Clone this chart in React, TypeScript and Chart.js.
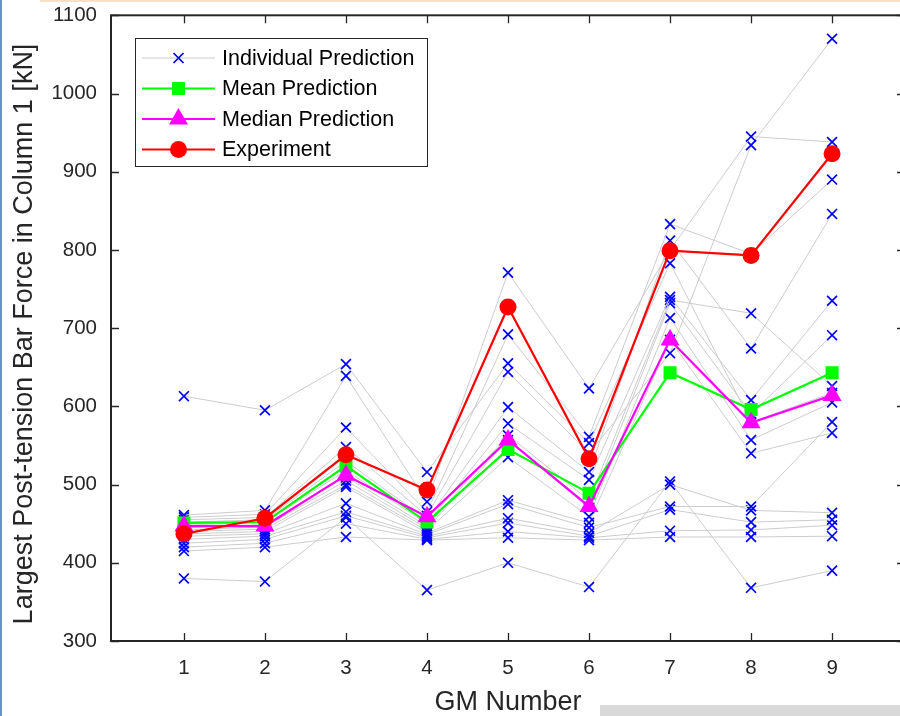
import React, { useEffect, useRef } from 'react';
import { Chart, registerables } from 'chart.js';

Chart.register(...registerables);

const gmNumbers = [1, 2, 3, 4, 5, 6, 7, 8, 9];

const individualPredictions: number[][] = [
  [613, 595, 654, 516, 655, 553, 783, 580, 617],
  [461, 467, 639, 478, 771, 623, 800, 945, 938],
  [458, 462, 573, 465, 692, 561, 833, 795, 890],
  [455, 458, 548, 460, 644, 540, 668, 934, 1070],
  [452, 455, 530, 455, 599, 516, 812, 674, 846],
  [448, 452, 518, 450, 578, 506, 740, 608, 735],
  [445, 449, 510, 447, 563, 480, 736, 719, 626],
  [442, 446, 505, 444, 557, 470, 732, 590, 691],
  [440, 443, 500, 441, 535, 459, 713, 557, 605],
  [437, 440, 497, 438, 480, 451, 685, 540, 566],
  [434, 437, 476, 436, 475, 445, 472, 472, 580],
  [430, 434, 465, 434, 457, 438, 500, 467, 464],
  [425, 430, 460, 432, 451, 434, 468, 452, 455],
  [420, 425, 450, 430, 440, 432, 441, 442, 448],
  [415, 420, 433, 429, 432, 429, 433, 433, 434],
  [380, 376, 458, 365, 400, 369, 504, 368, 390],
];

const meanPrediction = [451, 452, 524, 452, 545, 489, 643, 596, 643];
const medianPrediction = [447, 447, 512, 459, 557, 472, 685, 579, 614];
const experiment = [437, 457, 538, 493, 727, 533, 799, 793, 923];

const yTicks = [300, 400, 500, 600, 700, 800, 900, 1000, 1100];
const legendLabels = ['Individual Prediction', 'Mean Prediction', 'Median Prediction', 'Experiment'];
const xTitle = 'GM Number';
const yTitle = 'Largest Post-tension Bar Force in Column 1 [kN]';

const FONT = '"Liberation Sans", Arial, Helvetica, sans-serif';
const AX = '#262626';
const SHIFT = 11; // canvas is shifted up by this amount inside the clipping frame

function drawMarker(ctx: CanvasRenderingContext2D, kind: string, x: number, y: number, color: string) {
  ctx.save();
  ctx.fillStyle = color;
  ctx.strokeStyle = color;
  if (kind === 'x') {
    ctx.lineWidth = 1.7;
    const h = 5;
    ctx.beginPath();
    ctx.moveTo(x - h, y - h); ctx.lineTo(x + h, y + h);
    ctx.moveTo(x - h, y + h); ctx.lineTo(x + h, y - h);
    ctx.stroke();
  } else if (kind === 'square') {
    const h = 6.5;
    ctx.fillRect(x - h, y - h, 2 * h, 2 * h);
  } else if (kind === 'triangle') {
    const r = 11;
    ctx.beginPath();
    ctx.moveTo(x, y - r);
    ctx.lineTo(x + r * 0.866, y + r * 0.5);
    ctx.lineTo(x - r * 0.866, y + r * 0.5);
    ctx.closePath();
    ctx.fill();
  } else {
    ctx.beginPath();
    ctx.arc(x, y, 8.5, 0, Math.PI * 2);
    ctx.fill();
  }
  ctx.restore();
}

const framePlugin = {
  id: 'matlabFrame',
  afterDraw(chart: any) {
    const { ctx, chartArea: a, scales } = chart;
    ctx.save();
    ctx.strokeStyle = AX;
    ctx.lineWidth = 1.3;
    const L = 8;
    ctx.beginPath();
    scales.x.ticks.forEach((t: any) => {
      const px = Math.round(scales.x.getPixelForValue(t.value)) + 0.5;
      ctx.moveTo(px, a.bottom); ctx.lineTo(px, a.bottom - L);
      ctx.moveTo(px, a.top); ctx.lineTo(px, a.top + L);
    });
    scales.y.ticks.forEach((t: any) => {
      const py = Math.round(scales.y.getPixelForValue(t.value)) + 0.5;
      ctx.moveTo(a.left, py); ctx.lineTo(a.left + L, py);
      ctx.moveTo(a.right, py); ctx.lineTo(a.right - L, py);
    });
    ctx.stroke();
    ctx.lineWidth = 2;
    ctx.strokeRect(a.left, a.top, a.right - a.left, a.bottom - a.top);

    ctx.fillStyle = AX;
    ctx.font = `27px ${FONT}`;
    ctx.textAlign = 'center';
    ctx.textBaseline = 'middle';
    ctx.fillText(xTitle, (a.left + a.right) / 2, 703 + SHIFT);
    ctx.save();
    ctx.translate(25, 334 + SHIFT);
    ctx.rotate(-Math.PI / 2);
    ctx.font = `27px ${FONT}`;
    ctx.fillText(yTitle, 0, 0);
    ctx.restore();

    const bx = 135.5, by = 38.5 + SHIFT, bw = 292, bh = 128;
    ctx.fillStyle = '#ffffff';
    ctx.fillRect(bx, by, bw, bh);
    ctx.strokeStyle = AX;
    ctx.lineWidth = 1;
    ctx.strokeRect(bx, by, bw, bh);
    const rows = [58, 88.5, 119, 149.5];
    const lineColors = ['#cccccc', '#00ff00', '#ff00ff', '#ff0000'];
    const lineWidths = [1.2, 2, 2, 2];
    const markers = ['x', 'square', 'triangle', 'circle'];
    const markerColors = ['#0000ff', '#00ff00', '#ff00ff', '#ff0000'];
    legendLabels.forEach((label, i) => {
      const y = rows[i] + SHIFT;
      ctx.strokeStyle = lineColors[i];
      ctx.lineWidth = lineWidths[i];
      ctx.beginPath();
      ctx.moveTo(142, y); ctx.lineTo(215, y);
      ctx.stroke();
      drawMarker(ctx, markers[i], 178.5, y, markerColors[i]);
      ctx.fillStyle = '#000000';
      ctx.font = `21.5px ${FONT}`;
      ctx.textAlign = 'left';
      ctx.textBaseline = 'middle';
      ctx.fillText(label, 222, y + 1);
    });
    ctx.restore();
  },
};

export default function App() {
  const ref = useRef<HTMLCanvasElement>(null);

  useEffect(() => {
    const canvas = ref.current;
    if (!canvas) return;
    const toPts = (arr: number[]) => gmNumbers.map((x, j) => ({ x, y: arr[j] }));

    const datasets: any[] = individualPredictions.map((s, i) => ({
      label: `${legendLabels[0]} ${i + 1}`,
      data: toPts(s),
      borderColor: '#cccccc',
      borderWidth: 1,
      pointStyle: 'crossRot',
      pointRadius: 7,
      pointBorderColor: '#0000ff',
      pointBackgroundColor: '#0000ff',
      pointBorderWidth: 1.7,
      order: 10,
      fill: false,
      tension: 0,
    }));
    datasets.push({
      label: legendLabels[1],
      data: toPts(meanPrediction),
      borderColor: '#00ff00',
      backgroundColor: '#00ff00',
      borderWidth: 2.2,
      pointStyle: 'rect',
      pointRadius: 9.2,
      pointBorderWidth: 0,
      pointBackgroundColor: '#00ff00',
      order: 3,
      fill: false,
    });
    datasets.push({
      label: legendLabels[2],
      data: toPts(medianPrediction),
      borderColor: '#ff00ff',
      backgroundColor: '#ff00ff',
      borderWidth: 2.2,
      pointStyle: 'triangle',
      pointRadius: 11,
      pointBorderWidth: 0,
      pointBackgroundColor: '#ff00ff',
      order: 2,
      fill: false,
    });
    datasets.push({
      label: legendLabels[3],
      data: toPts(experiment),
      borderColor: '#ff0000',
      backgroundColor: '#ff0000',
      borderWidth: 2.2,
      pointStyle: 'circle',
      pointRadius: 8.5,
      pointBorderWidth: 0,
      pointBackgroundColor: '#ff0000',
      order: 1,
      fill: false,
    });

    const chart = new Chart(canvas, {
      type: 'line',
      data: { datasets },
      options: {
        animation: false,
        responsive: false,
        devicePixelRatio: 1,
        layout: { autoPadding: false, padding: { top: 15, right: 10, left: 0, bottom: 0 } },
        plugins: { legend: { display: false }, tooltip: { enabled: false } },
        scales: {
          x: {
            type: 'linear',
            min: 0.1,
            max: 9.9,
            afterBuildTicks: (s: any) => { s.ticks = gmNumbers.map((v) => ({ value: v })); },
            afterFit: (s: any) => { s.height = 75; },
            grid: { display: false, drawTicks: false },
            border: { display: false },
            ticks: {
              font: { family: FONT, size: 20.5 },
              color: AX,
              padding: 15,
              maxRotation: 0,
              autoSkip: false,
              callback: (v: any) => String(v),
            },
          },
          y: {
            type: 'linear',
            min: 300,
            max: 1100,
            afterBuildTicks: (s: any) => { s.ticks = yTicks.map((v) => ({ value: v })); },
            afterFit: (s: any) => { s.width = 111; },
            grid: { display: false, drawTicks: false },
            border: { display: false },
            ticks: {
              font: { family: FONT, size: 20.5 },
              color: AX,
              padding: 14,
              autoSkip: false,
              callback: (v: any) => String(v),
            },
          },
        },
      } as any,
      plugins: [framePlugin],
    });
    return () => chart.destroy();
  }, []);

  return (
    <div style={{ position: 'fixed', left: 0, top: 0, width: 900, height: 716, overflow: 'hidden', background: '#ffffff' }}>
      <canvas ref={ref} width={915} height={716 + SHIFT} style={{ position: 'absolute', left: 0, top: -SHIFT, display: 'block', width: 915, height: 716 + SHIFT }} />
      <div style={{ position: 'absolute', left: 40, top: 0, width: 860, height: 2, background: '#f4dfcd' }} />
      <div style={{ position: 'absolute', left: 0, top: 0, width: 2, height: 716, background: '#6a93c6' }} />
      <div style={{ position: 'absolute', left: 600, top: 705, width: 300, height: 11, background: '#d9d9d9' }} />
    </div>
  );
}
